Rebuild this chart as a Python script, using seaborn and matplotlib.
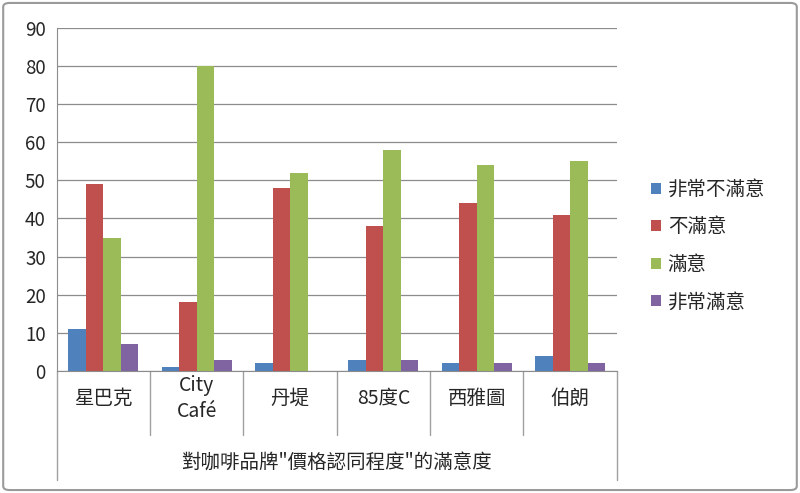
import pandas as pd
import seaborn as sns
import matplotlib.pyplot as plt
from matplotlib.patches import FancyBboxPatch

# Data
brands = ['星巴克', 'City\nCafé', '丹堤', '85度C', '西雅圖', '伯朗']
levels = ['非常不滿意', '不滿意', '滿意', '非常滿意']
very_unsatisfied = [11, 1, 2, 3, 2, 4]
unsatisfied = [49, 18, 48, 38, 44, 41]
satisfied = [35, 80, 52, 58, 54, 55]
very_satisfied = [7, 3, 0, 3, 2, 2]
colors = ['#4F81BD', '#C0504D', '#9BBB59', '#8064A2']

data = pd.DataFrame({
    'brand': brands * 4,
    'level': [lv for lv in levels for _ in brands],
    'count': very_unsatisfied + unsatisfied + satisfied + very_satisfied,
})

sns.set_style('white')
plt.rcParams['font.family'] = ['Noto Sans CJK TC', 'DejaVu Sans']

fig = plt.figure(figsize=(8, 4.93), dpi=100)
ax = fig.add_axes([0.071, 0.2475, 0.70, 0.696])

sns.barplot(data=data, x='brand', y='count', hue='level', hue_order=levels,
            order=brands, palette=colors, width=0.75, gap=0, saturation=1,
            edgecolor='none', ax=ax)

ax.set_ylim(0, 90)
ax.set_xlim(-0.5, 5.5)
ax.set_yticks(range(0, 91, 10))
ax.tick_params(axis='y', labelsize=13.5, length=5, color='#8c8c8c', pad=3)
ax.grid(axis='y', color='#8c8c8c', linewidth=0.9)
ax.set_axisbelow(True)
ax.set_xticks([])
ax.set_xlabel('')
ax.set_ylabel('')
for side in ['top', 'right']:
    ax.spines[side].set_visible(False)
for side in ['left', 'bottom']:
    ax.spines[side].set_color('#8c8c8c')

# category boxes under the axis
trans = ax.get_xaxis_transform()
for i, name in enumerate(brands):
    ax.text(i, -0.08, name, transform=trans, ha='center', va='center',
            fontsize=14, linespacing=1.3)
for b in range(1, len(brands)):
    ax.plot([b - 0.5, b - 0.5], [0, -0.187], transform=trans,
            color='#a0a0a0', lw=1, clip_on=False)
for b in [-0.5, len(brands) - 0.5]:
    ax.plot([b, b], [0, -0.318], transform=trans,
            color='#a0a0a0', lw=1, clip_on=False)
ax.text(2.5, -0.268, '對咖啡品牌"價格認同程度"的滿意度', transform=trans,
        ha='center', va='center', fontsize=14)

leg = ax.legend(loc='center left', bbox_to_anchor=(1.03, 0.365), frameon=False,
                fontsize=14, handlelength=0.5, handleheight=0.5,
                handletextpad=0.35, labelspacing=0.85)

fig.patches.append(FancyBboxPatch((0.004, 0.006), 0.992, 0.988,
                                  boxstyle='round,pad=0,rounding_size=0.008',
                                  transform=fig.transFigure, fill=False,
                                  edgecolor='#9a9a9a', lw=1.5))

fig.savefig('out.png', dpi=100)
